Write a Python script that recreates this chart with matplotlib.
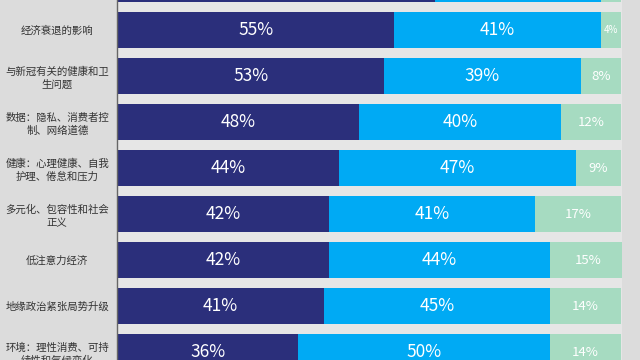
import matplotlib
matplotlib.use("Agg")
import matplotlib.pyplot as plt

plt.rcParams['font.family'] = ['Noto Sans CJK SC', 'DejaVu Sans']

categories = [
    "",
    "经济衰退的影响",
    "与新冠有关的健康和卫\n生问题",
    "数据：隐私、消费者控\n制、网络道德",
    "健康：心理健康、自我\n护理、倦怠和压力",
    "多元化、包容性和社会\n正义",
    "低注意力经济",
    "地缘政治紧张局势升级",
    "环境：理性消费、可持\n续性和气候变化",
]
dark_vals = [63, 55, 53, 48, 44, 42, 42, 41, 36]
blue_vals = [33, 41, 39, 40, 47, 41, 44, 45, 50]
green_vals = [4, 4, 8, 12, 9, 17, 15, 14, 14]

c_dark = "#2b2f7b"
c_blue = "#00aaf4"
c_green = "#a6dbc1"

W, H = 640, 360
fig = plt.figure(figsize=(6.4, 3.6), dpi=100, facecolor="#dcdcdc")
ax = fig.add_axes([117 / W, 0, (622 - 117) / W, 1])
ax.set_facecolor("#e6e6e6")

ys = list(range(len(categories)))
h = 0.78
ax.barh(ys, dark_vals, height=h, color=c_dark)
lefts2 = dark_vals
ax.barh(ys, blue_vals, left=lefts2, height=h, color=c_blue)
lefts3 = [a + b for a, b in zip(dark_vals, blue_vals)]
ax.barh(ys, green_vals, left=lefts3, height=h, color=c_green)

for i in ys:
    if i == 0:
        continue
    d, b, g = dark_vals[i], blue_vals[i], green_vals[i]
    ax.text(d / 2, i, f"{d}%", color="white", ha="center", va="center", fontsize=12.5)
    ax.text(d + b / 2, i, f"{b}%", color="white", ha="center", va="center", fontsize=12.5)
    gs = 7 if g < 5 else 9.5
    ax.text(d + b + g / 2, i, f"{g}%", color="white", ha="center", va="center", fontsize=gs)

ax.set_yticks(ys)
ax.set_yticklabels(categories, ha="center", multialignment="center", fontsize=7.5,
                   color="#333333", linespacing=1.35)
ax.tick_params(axis="y", length=0, pad=43)
ax.set_xticks([])
ax.set_xlim(0, 100.2)
ax.set_ylim(376 / 46, 16 / 46)
for s in ["top", "right", "bottom"]:
    ax.spines[s].set_visible(False)
ax.spines["left"].set_color("#666666")
ax.spines["left"].set_linewidth(1.0)

fig.savefig("out.png", dpi=100, facecolor=fig.get_facecolor())
